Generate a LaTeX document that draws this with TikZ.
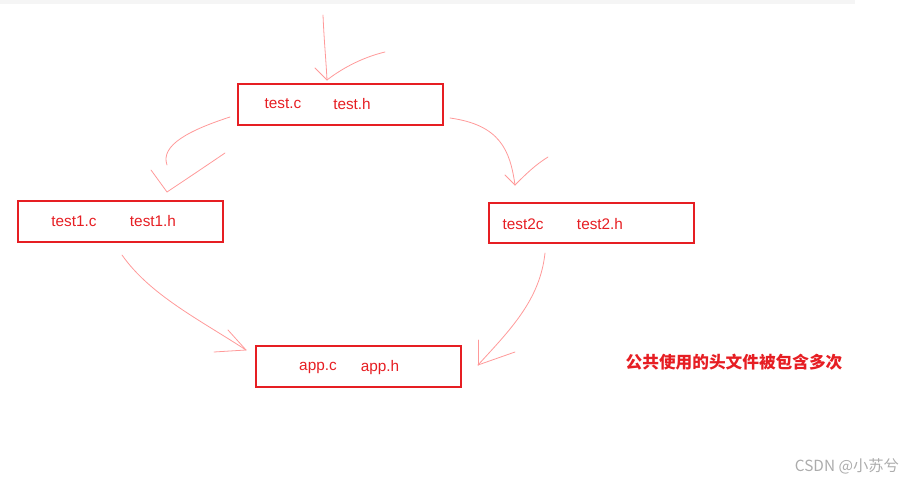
\documentclass[tikz,border=0pt]{standalone}
\usepackage{fontspec}
\setmainfont{Liberation Sans}
\newfontfamily\cjk{Noto Sans CJK SC}
\definecolor{rr}{RGB}{230,30,35}
\begin{document}
\begin{tikzpicture}[x=0.75pt,y=-0.75pt,
  box/.style={draw=rr,line width=1.4pt,anchor=north west,inner sep=0pt},
  hand/.style={draw=red!40,line width=0.6pt,line cap=round},
  lbl/.style={text=rr,font=\fontsize{11.5}{13}\selectfont}]
\useasboundingbox (0,0) rectangle (924,481);
\fill[gray!8] (0,0) rectangle (855,4);
\node[box,minimum width=154pt,minimum height=31pt] (t) at (237,83) {};
\node[lbl] at (283,104) {test.c};
\node[lbl] at (352,104) {test.h};
\node[box,minimum width=154pt,minimum height=31pt] (t1) at (17,200) {};
\node[lbl] at (74,221) {test1.c};
\node[lbl] at (153,221) {test1.h};
\node[box,minimum width=154pt,minimum height=30pt] (t2) at (488,202) {};
\node[lbl] at (523,224) {test2c};
\node[lbl] at (600,224) {test2.h};
\node[box,minimum width=154pt,minimum height=31pt] (ap) at (255,345) {};
\node[lbl] at (318,368) {app.c};
\node[lbl] at (380,368) {app.h};
\node[text=rr,font=\cjk\fontsize{12.5}{14}\selectfont] (note) at (734,362) {\bfseries 公共使用的头文件被包含多次};
\node[text=gray!65,font=\cjk\fontsize{11.5}{13}\selectfont] (wm) at (847,466) {CSDN @小苏兮};
% top arrow
\coordinate (a0) at (323,15); \coordinate (a1) at (327,80);
\draw[hand] (a0) .. controls (324,40) and (326,60) .. (a1);
\draw[hand] (315,68) -- (a1);
\draw[hand] (385,52) .. controls (360,58) and (340,70) .. (a1);
% test -> test1
\coordinate (b0) at (230,117); \coordinate (b1) at (167,192);
\draw[hand] (b0) .. controls (190,130) and (160,145) .. (167,165);
\draw[hand] (151,170) -- (b1);
\draw[hand] (225,153) .. controls (200,170) and (185,180) .. (b1);
% test -> test2
\coordinate (c0) at (450,118); \coordinate (c1) at (515,185);
\draw[hand] (c0) .. controls (500,125) and (510,150) .. (c1);
\draw[hand] (505,175) -- (c1);
\draw[hand] (548,157) .. controls (535,165) and (525,175) .. (c1);
% test1 -> app
\coordinate (d0) at (122,255); \coordinate (d1) at (246,350);
\draw[hand] (d0) .. controls (150,295) and (200,320) .. (d1);
\draw[hand] (214,352) -- (d1);
\draw[hand] (228,330) -- (d1);
% test2 -> app
\coordinate (e0) at (545,253); \coordinate (e1) at (478,365);
\draw[hand] (e0) .. controls (540,300) and (510,330) .. (e1);
\draw[hand] (478,340) -- (e1);
\draw[hand] (515,352) -- (e1);
\end{tikzpicture}
\end{document}
